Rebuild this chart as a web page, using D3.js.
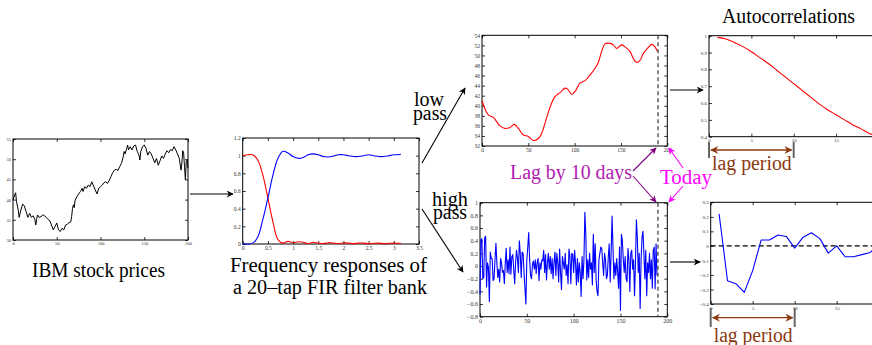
<!DOCTYPE html>
<html><head><meta charset="utf-8">
<script src="https://cdn.jsdelivr.net/npm/d3@7"></script>
<style>
html,body{margin:0;padding:0;background:#fff;overflow:hidden}
svg{display:block;font-family:"Liberation Serif","DejaVu Serif",serif}
</style></head>
<body>
<svg id="c" width="872" height="345"></svg>
<script>
// ---------- DATA ----------
const ibmDays = [0,2,3,4,6,7,9,11,13,15,17,19,21,23,25,26,27,28,30,32,34,36,38,40,42,44,46,48,50,52,54,56,58,60,62,64,66,67,68,69,70,71,73,75,77,79,80,82,84,86,88,90,92,94,96,98,100,102,104,106,108,110,112,114,116,118,120,122,124,126,127,128,130,131,132,134,136,138,140,142,144,145,146,148,150,152,154,156,158,160,162,164,166,168,170,172,174,176,178,180,182,184,186,188,190,192,193,194,195,196,197,198,199,200];
const ibmPrice = [39.9,41.2,41.7,39.5,37.4,35.6,37.4,38.9,38.4,37.0,35.6,36.6,35.6,36.0,35.1,33.7,35.1,36.2,35.6,35.8,36.2,36.0,35.6,35.1,34.8,33.7,32.5,33.3,34.2,32.5,32.1,32.9,32.5,33.7,33.9,34.3,34.5,35.8,37.8,38.7,38.0,39.9,40.7,41.4,42.0,42.8,42.0,43.2,42.8,43.6,43.2,44.4,43.4,42.4,41.4,42.8,43.2,43.6,44.2,44.4,44.0,44.8,45.7,46.7,47.3,47.5,47.2,48.2,49.0,50.6,51.9,51.3,52.7,53.5,52.3,53.1,52.3,53.3,53.5,51.9,51.0,49.8,51.9,53.1,53.5,52.7,51.0,51.9,51.3,50.2,49.1,50.2,48.5,49.6,50.8,50.2,51.3,52.1,51.6,52.4,52.1,53.1,52.3,51.3,50.2,47.3,49.1,52.1,51.5,48.2,44.9,49.4,49.9,47.8];
const ibmXTicks = [0,50,100,150,200];
const ibmYTicks = [30,35,40,45,50,55];

const freq = [0,0.1,0.2,0.3,0.4,0.5,0.6,0.7,0.8,0.9,1.0,1.1,1.2,1.3,1.4,1.5,1.6,1.7,1.8,1.9,2.0,2.1,2.2,2.3,2.4,2.5,2.6,2.7,2.8,2.9,3.0,3.1,3.14];
const lowResp = [1.0,1.01,1.01,0.95,0.78,0.52,0.25,0.05,0.01,0.03,0.015,0.025,0.02,0.005,0.02,0.01,0.005,0.015,0.01,0.005,0.012,0.01,0.004,0.01,0.01,0.004,0.008,0.01,0.004,0.007,0.01,0.008,0.008];
const highResp = [0.0,0.0,0.01,0.08,0.28,0.52,0.78,0.97,1.05,1.03,0.99,0.97,0.98,1.01,1.02,1.01,0.99,0.985,0.995,1.01,1.01,1.0,0.99,0.99,1.0,1.01,1.0,0.99,0.99,1.0,1.01,1.01,1.015];
const freqXTicks = [0,0.5,1,1.5,2,2.5,3,3.5];
const freqYTicks = [0,0.2,0.4,0.6,0.8,1,1.2];

const lowDays = [0,6.8,12.2,19.4,24.8,30.2,34.9,39.2,44.6,50,55.4,60.8,64.4,69.1,73.4,78.8,84.2,89.6,92.4,96.8,100.4,105.8,111.2,116.5,121.9,125.5,129.1,132.7,138.1,141.7,145.3,150.7,154.3,159.7,163.3,166.9,170.5,174.1,179.5,183.1,186.7,189.2];
const lowPass = [41.0,38.2,37.7,36.0,35.5,35.7,36.3,35.5,34.2,33.9,33.1,33.5,34.5,37.2,39.7,41.8,42.6,43.5,43.3,42.3,42.8,44.5,45.0,46.1,47.4,48.6,50.8,52.3,52.4,52.1,51.4,52.1,51.7,50.8,49.4,48.6,49.0,50.4,51.6,52.2,51.7,50.8];
const lowXTicks = [0,50,100,150,200];
const lowYTicks = [32,34,36,38,40,42,44,46,48,50,52,54];

const highPass = [-0.45,0.42,0.43,-0.2,-0.18,0.45,0.47,-0.33,0.05,-0.02,-0.56,0.22,0.12,0.12,-0.23,-0.2,0.1,0.36,0.05,-0.18,
-0.05,-0.25,0.12,0.05,-0.1,-0.07,-0.28,0.05,0.28,-0.1,0.1,-0.12,0.3,-0.13,0.15,0.18,-0.05,-0.28,0.05,0.25,
0.12,-0.1,0.4,0.2,-0.18,0.22,0.2,-0.1,-0.35,-0.6,0.1,0.3,0.53,0.1,-0.15,-0.2,0.02,0.08,-0.05,0.1,
-0.12,0.05,0.12,-0.23,0.05,-0.05,0.1,0.08,0.25,-0.1,0.18,-0.22,0.05,0.2,-0.05,0.15,-0.12,0.12,-0.2,0.05,
0.22,-0.15,0.2,0.05,-0.25,0.27,-0.1,-0.37,0.15,0.05,-0.05,0.2,-0.15,0.02,-0.28,0.27,0.15,-0.28,0.2,0.18,
-0.1,0.25,0.05,-0.3,0.12,-0.25,0.05,-0.1,-0.48,0.15,-0.2,0.1,0.85,0.5,-0.22,0.1,-0.18,0.2,-0.05,0.05,
-0.3,0.5,-0.1,0.35,-0.22,-0.4,-0.47,0.1,0.2,0.3,0.28,0.05,-0.15,0.2,0.1,-0.2,-0.15,0.15,0.35,-0.25,
0.2,0.79,0.3,-0.2,0.05,-0.15,0.12,-0.1,-0.35,0.3,-0.7,0.5,0.4,0.1,-0.1,0.15,-0.2,-0.25,0.28,0.1,
-0.4,0.2,0.25,-0.05,0.1,-0.47,0.05,0.73,0.45,-0.1,0.2,-0.67,0.1,0.45,0.55,0.2,-0.2,0.25,-0.47,0.05,
-0.1,0.2,-0.2,0.1,-0.35,0.25,0.3,-0.36,0.35,-0.15];
const highXTicks = [0,50,100,150,200];
const highYTicks = [-0.8,-0.6,-0.4,-0.2,0,0.2,0.4,0.6,0.8,1];

const lags = [1,2,3,4,5,6,7,8,9,10,11,12,13,14,15,16,17,18,19,20];
const acLow = [0.99,0.98,0.96,0.935,0.905,0.87,0.835,0.795,0.755,0.715,0.675,0.635,0.595,0.56,0.53,0.5,0.47,0.445,0.418,0.40];
const acHigh = [0.22,-0.24,-0.26,-0.32,-0.17,0.04,0.04,0.075,0.065,-0.015,0.06,0.09,0.05,-0.05,0.0,-0.075,-0.075,-0.06,-0.045,0.01];
const acXTicks = [0,5,10,15];
const acLowYTicks = [0.4,0.5,0.6,0.7,0.8,0.9,1];
const acHighYTicks = [-0.4,-0.3,-0.2,-0.1,0,0.1,0.2,0.3];
const lagPeriod = 10;
const todayDay = 190;

// ---------- DRAW ----------
const svg = d3.select("#c");
const defs = svg.append("defs");
function marker(id, color, w, h){
  defs.append("marker").attr("id",id).attr("viewBox","0 0 10 10").attr("refX",9).attr("refY",5)
    .attr("markerWidth",w).attr("markerHeight",h).attr("orient","auto-start-reverse").attr("markerUnits","userSpaceOnUse")
    .append("path").attr("d","M0,0 L10,5 L0,10 L3,5 Z").attr("fill",color);
}
marker("ab","#000",10,7);
marker("ap","#800080",10,7);
marker("am","#ff00ff",10,7);
marker("abr","#8b3a0f",11,8);

function panel(o){
  const g = svg.append("g");
  const x = d3.scaleLinear().domain(o.xd).range([o.x0,o.x1]);
  const y = d3.scaleLinear().domain(o.yd).range([o.y1,o.y0]);
  const fs = o.fs;
  const fmt = d=>d3.format("")(d);
  const ax = (gen, tv, tr, lab) => {
    const a = g.append("g").attr("transform",tr).call(gen.tickValues(tv).tickSizeInner(-3).tickSizeOuter(0).tickPadding(2)
      .tickFormat(lab ? fmt : ""));
    a.select(".domain").remove();
    a.selectAll("line").attr("stroke","#000").attr("stroke-width",0.8);
    a.selectAll("text").attr("font-size",fs).attr("fill","#333").attr("font-family","Liberation Serif");
    return a;
  };
  ax(d3.axisBottom(x), o.xt, `translate(0,${o.y1})`, true);
  ax(d3.axisTop(x), o.xt, `translate(0,${o.y0})`, false);
  ax(d3.axisLeft(y), o.yt, `translate(${o.x0},0)`, true);
  ax(d3.axisRight(y), o.yt, `translate(${o.x1},0)`, false);
  g.append("rect").attr("x",o.x0).attr("y",o.y0).attr("width",o.x1-o.x0).attr("height",o.y1-o.y0)
    .attr("fill","none").attr("stroke","#000").attr("stroke-width",1);
  return {g,x,y};
}
function line(p, xs, ys, color, curve, w){
  const data = xs.map((d,i)=>[d,ys[i]]);
  p.g.append("path").datum(data).attr("fill","none").attr("stroke",color).attr("stroke-width",w||1)
    .attr("stroke-linejoin","round")
    .attr("d", d3.line().x(d=>p.x(d[0])).y(d=>p.y(d[1])).curve(curve||d3.curveLinear));
}

// Panel 1: IBM
const p1 = panel({x0:13,x1:188,y0:139,y1:240,xd:[0,200],yd:[30,55],xt:ibmXTicks,yt:ibmYTicks,fs:4.5});
line(p1, ibmDays, ibmPrice, "#000", d3.curveLinear, 1);

// Panel 2: frequency responses
const p2 = panel({x0:242.7,x1:419,y0:138,y1:244,xd:[0,3.5],yd:[0,1.2],xt:freqXTicks,yt:freqYTicks,fs:5.5});
line(p2, freq, lowResp, "#ff0000", d3.curveCatmullRom, 1.1);
line(p2, freq, highResp, "#0000ff", d3.curveCatmullRom, 1.1);

// Panel 3: low pass
const p3 = panel({x0:482,x1:667.3,y0:35.3,y1:146,xd:[0,200],yd:[32,54],xt:lowXTicks,yt:lowYTicks,fs:5.5});
line(p3, lowDays, lowPass, "#ff0000", d3.curveCatmullRom, 1.1);
p3.g.append("line").attr("x1",p3.x(todayDay)).attr("x2",p3.x(todayDay)).attr("y1",35.3).attr("y2",146)
  .attr("stroke","#444").attr("stroke-width",1.3).attr("stroke-dasharray","4,3");

// Panel 4: high pass
const p4 = panel({x0:480,x1:667.3,y0:202.7,y1:316.7,xd:[0,200],yd:[-0.8,1],xt:highXTicks,yt:highYTicks,fs:6});
line(p4, highPass.map((d,i)=>i), highPass, "#0000ff", d3.curveLinear, 1.1);
p4.g.append("line").attr("x1",p4.x(todayDay)).attr("x2",p4.x(todayDay)).attr("y1",202.7).attr("y2",316.7)
  .attr("stroke","#444").attr("stroke-width",1.3).attr("stroke-dasharray","4,3");

// Panel 5: autocorr low
const p5 = panel({x0:709,x1:878.4,y0:35.7,y1:136.7,xd:[0,20],yd:[0.4,1],xt:acXTicks,yt:acLowYTicks,fs:5});
line(p5, lags, acLow, "#ff0000", d3.curveCatmullRom, 1.1);

// Panel 6: autocorr high
const p6 = panel({x0:710.7,x1:878.7,y0:202.3,y1:304,xd:[0,20],yd:[-0.4,0.3],xt:acXTicks,yt:acHighYTicks,fs:5});
p6.g.append("line").attr("x1",710.7).attr("x2",878.7).attr("y1",p6.y(0)).attr("y2",p6.y(0))
  .attr("stroke","#000").attr("stroke-width",1.1).attr("stroke-dasharray","5,3");
line(p6, lags, acHigh, "#0000ff", d3.curveLinear, 1.1);

// ---------- ANNOTATIONS ----------
function arrow(x1,y1,x2,y2,color,mk,w){
  svg.append("line").attr("x1",x1).attr("y1",y1).attr("x2",x2).attr("y2",y2)
    .attr("stroke",color).attr("stroke-width",w||1).attr("marker-end",`url(#${mk})`);
}
arrow(190,194,233,194,"#000","ab",1.1);
arrow(422,163,465,88,"#000","ab",1.1);
arrow(422,209,463,272,"#000","ab",1.1);
arrow(670,90,703,90,"#000","ab",1.1);
arrow(670,262,700,262,"#000","ab",1.1);

// lag by 10 days arrows
arrow(633,171,656,148,"#800080","ap",1.1);
arrow(633,176,656,202,"#800080","ap",1.1);
// today arrows
arrow(683,168,669,148,"#ff00ff","am",1.1);
arrow(683,186,669,202,"#ff00ff","am",1.1);

function txt(x0,x1,y,s,size,color){
  svg.append("text").attr("x",x0).attr("y",y).attr("font-size",size).attr("fill",color||"#000")
    .attr("text-anchor","start").attr("textLength",x1-x0).attr("lengthAdjust","spacingAndGlyphs").text(s);
}
txt(32,165,277,"IBM stock prices",20);
txt(230,427,272,"Frequency responses of",20);
txt(233,427,294,"a 20\u2013tap FIR filter bank",20);
txt(414,444,106,"low",20);
txt(413,447,119.5,"pass",20);
txt(432,468,206,"high",20);
txt(433,467,219,"pass",20);
txt(722,855,23,"Autocorrelations",20);
txt(510,632,179,"Lag by 10 days",20,"#b020b0");
txt(660,712,184,"Today",20,"#ff00ff");

// lag period brackets
function lagBracket(p, yTop, yBot, yArr, yTxt){
  const xa = p.x(0), xb = p.x(lagPeriod);
  [xa,xb].forEach(xx=>svg.append("line").attr("x1",xx).attr("x2",xx).attr("y1",yTop).attr("y2",yBot)
    .attr("stroke","#666").attr("stroke-width",2));
  svg.append("line").attr("x1",xa+2).attr("x2",xb-2).attr("y1",yArr).attr("y2",yArr)
    .attr("stroke","#8b3a0f").attr("stroke-width",1.3)
    .attr("marker-start","url(#abr)").attr("marker-end","url(#abr)");
  txt(xa+3,xb-2,yTxt,"lag period",20,"#8b3a0f");
}
lagBracket(p5,142,158,150,170);
lagBracket(p6,308,327,317.7,341.5);
</script>
</body></html>
